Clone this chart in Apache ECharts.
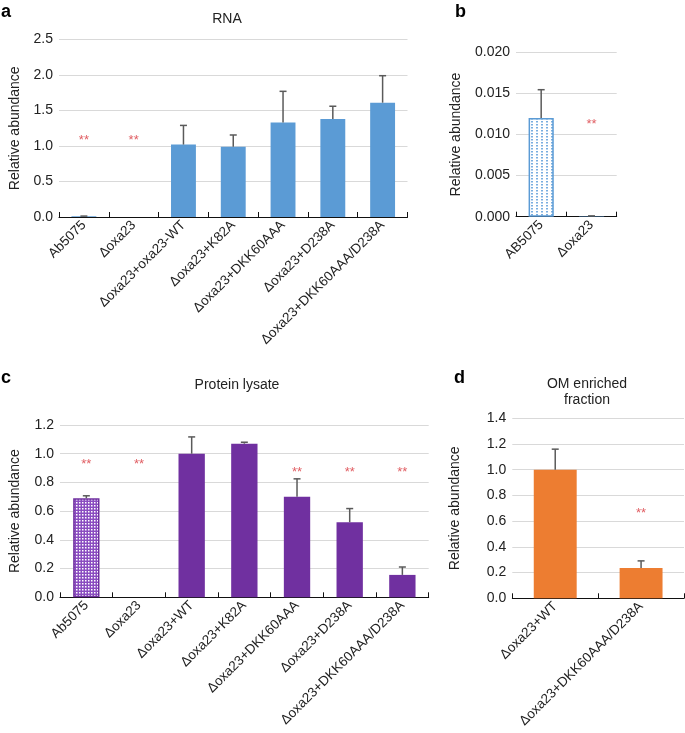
<!DOCTYPE html>
<html>
<head>
<meta charset="utf-8">
<script src="https://cdn.jsdelivr.net/npm/echarts@6/dist/echarts.min.js"></script>
<style>
    html, body { margin: 0; padding: 0; background: #fff; }
    #main { width: 685px; height: 733px; }
</style>
</head>
<body>
<div id="main"></div>
<script>
// panel a : RNA
var rnaCats = ['Ab5075', 'Δoxa23', 'Δoxa23+oxa23-WT', 'Δoxa23+K82A', 'Δoxa23+DKK60AAA', 'Δoxa23+D238A', 'Δoxa23+DKK60AAA/D238A'];
var rnaVals = [0.01, 0, 1.02, 0.99, 1.33, 1.38, 1.61];
var rnaErr = [0.003, 0, 0.27, 0.165, 0.44, 0.18, 0.38];
var rnaStars = [[0, 1.08], [1, 1.08]];
var rnaTicks = [0, 2.5, 0.5];

// panel b : RNA, wild type vs deletion
var bCats = ['AB5075', 'Δoxa23'];
var bVals = [0.0120, 0.00005];
var bErr = [0.00345, 0.00005];
var bStars = [[1, 0.0112]];
var bTicks = [0, 0.02, 0.005];

// panel c : Protein lysate
var protCats = ['Ab5075', 'Δoxa23', 'Δoxa23+WT', 'Δoxa23+K82A', 'Δoxa23+DKK60AAA', 'Δoxa23+D238A', 'Δoxa23+DKK60AAA/D238A'];
var protVals = [0.69, 0, 1.0, 1.07, 0.70, 0.523, 0.156];
var protErr = [0.017, 0, 0.117, 0.01, 0.125, 0.095, 0.055];
var protStars = [[0, 0.923], [1, 0.923], [4, 0.87], [5, 0.87], [6, 0.87]];
var protTicks = [0, 1.2, 0.2];

// panel d : OM enriched fraction
var omCats = ['Δoxa23+WT', 'Δoxa23+DKK60AAA/D238A'];
var omVals = [1.0, 0.236];
var omErr = [0.16, 0.055];
var omStars = [[1, 0.66]];
var omTicks = [0, 1.4, 0.2];

var FONT = '"Liberation Sans", Arial, Helvetica, sans-serif';
var BLUE = '#5b9bd5', PURPLE = '#7030a0', ORANGE = '#ed7d31';
var ERR_COLOR = '#5a5a5a', STAR_COLOR = '#d8353b';

//点阵填充
function dotPattern(bg, fg, w, h, dw, dh) {
    var c = document.createElement('canvas');
    c.width = w; c.height = h;
    var ctx = c.getContext('2d');
    ctx.fillStyle = bg;
    ctx.fillRect(0, 0, w, h);
    ctx.fillStyle = fg;
    ctx.fillRect(1, 1, dw, dh);
    return { image: c, repeat: 'repeat' };
}

function barData(vals, first) {
    return vals.map(function (v, i) {
        if (i === 0 && first) {
            return { value: v, itemStyle: first };
        }
        return v;
    });
}

function errData(vals, errs) {
    var out = [];
    for (var i = 0; i < vals.length; i++) {
        if (errs[i] > 0) out.push([i, vals[i], vals[i] + errs[i]]);
    }
    return out;
}

function renderErr(params, api) {
    var p0 = api.coord([api.value(0), api.value(1)]);
    var p1 = api.coord([api.value(0), api.value(2)]);
    var cap = 3.5;
    var st = { stroke: ERR_COLOR, lineWidth: 1.5 };
    return {
        type: 'group',
        children: [
            { type: 'line', shape: { x1: p0[0], y1: p0[1], x2: p1[0], y2: p1[1] }, style: st },
            { type: 'line', shape: { x1: p1[0] - cap, y1: p1[1], x2: p1[0] + cap, y2: p1[1] }, style: st }
        ]
    };
}

function xAxisFor(idx, cats) {
    return {
        type: 'category', gridIndex: idx, data: cats,
        axisLine: { lineStyle: { color: '#111', width: 1 } },
        axisTick: { show: true, inside: true, length: 5, lineStyle: { color: '#111' } },
        axisLabel: { interval: 0, rotate: 45, fontSize: 13.5, color: '#222', fontFamily: FONT, margin: 6 }
    };
}

function yAxisFor(idx, ticks, digits, gap) {
    return {
        type: 'value', gridIndex: idx, min: ticks[0], max: ticks[1], interval: ticks[2],
        name: 'Relative abundance', nameLocation: 'middle', nameGap: gap, nameRotate: 90,
        nameTextStyle: { fontSize: 14, color: '#222', fontFamily: FONT },
        axisLine: { show: false }, axisTick: { show: false },
        axisLabel: {
            fontSize: 14, color: '#222', fontFamily: FONT, margin: 6,
            formatter: function (v) { return v.toFixed(digits); }
        },
        splitLine: { lineStyle: { color: '#d9d9d9', width: 1 } }
    };
}

function barSeries(idx, vals, color, first) {
    return {
        type: 'bar', xAxisIndex: idx, yAxisIndex: idx, barWidth: '50%',
        itemStyle: { color: color }, data: barData(vals, first), silent: true
    };
}

function errSeries(idx, vals, errs) {
    return {
        type: 'custom', xAxisIndex: idx, yAxisIndex: idx, renderItem: renderErr,
        encode: { x: 0, y: [1, 2] }, data: errData(vals, errs), silent: true, z: 5
    };
}

function starSeries(idx, pts) {
    return {
        type: 'scatter', xAxisIndex: idx, yAxisIndex: idx, symbolSize: 1,
        itemStyle: { color: 'rgba(0,0,0,0)' },
        label: { show: true, position: 'inside', formatter: '**', color: STAR_COLOR, fontSize: 13, fontFamily: FONT },
        data: pts, silent: true
    };
}

function titleAt(text, x, y, size, bold) {
    return {
        text: text, left: x, top: y, textAlign: bold ? 'left' : 'center', padding: 0,
        textStyle: { fontSize: size, fontWeight: bold ? 'bold' : 'normal', color: bold ? '#000' : '#222', fontFamily: FONT, lineHeight: 16 }
    };
}

var chart = echarts.init(document.getElementById('main'), null, { renderer: 'canvas' });

var option = {
    animation: false,
    backgroundColor: '#fff',
    title: [
        titleAt('a', 1, 4, 18, true),
        titleAt('RNA', 227, 11, 14, false),
        titleAt('b', 455, 4, 18, true),
        titleAt('c', 1, 370, 18, true),
        titleAt('Protein lysate', 237, 377, 14, false),
        titleAt('d', 454, 370, 18, true),
        titleAt('OM enriched\nfraction', 587, 376, 14, false)
    ],
    grid: [
        { left: 46, top: 39.5, width: 361.5, height: 177.5 },
        { left: 516, top: 52.3, width: 100.7, height: 164.4 },
        { left: 46.7, top: 425, width: 382, height: 172.3 },
        { left: 512.3, top: 418.3, width: 171.7, height: 180 }
    ],
    xAxis: [
        xAxisFor(0, rnaCats),
        xAxisFor(1, bCats),
        xAxisFor(2, protCats),
        xAxisFor(3, omCats)
    ],
    yAxis: [
        yAxisFor(0, rnaTicks, 1, 37),
        yAxisFor(1, bTicks, 3, 53),
        yAxisFor(2, protTicks, 1, 38),
        yAxisFor(3, omTicks, 1, 50)
    ],
    series: [
        barSeries(0, rnaVals, BLUE),
        errSeries(0, rnaVals, rnaErr),
        starSeries(0, rnaStars),

        barSeries(1, bVals, BLUE, {
            color: dotPattern('#ffffff', '#7aaee0', 5, 3, 2, 1.5),
            borderColor: BLUE, borderWidth: 1.5
        }),
        errSeries(1, bVals, bErr),
        starSeries(1, bStars),

        barSeries(2, protVals, PURPLE, {
            color: dotPattern('#8a4cc0', '#ffffff', 3, 3, 1.5, 1.5),
            borderColor: PURPLE, borderWidth: 1.5
        }),
        errSeries(2, protVals, protErr),
        starSeries(2, protStars),

        barSeries(3, omVals, ORANGE),
        errSeries(3, omVals, omErr),
        starSeries(3, omStars)
    ]
};

chart.setOption(option);
</script>
</body>
</html>
